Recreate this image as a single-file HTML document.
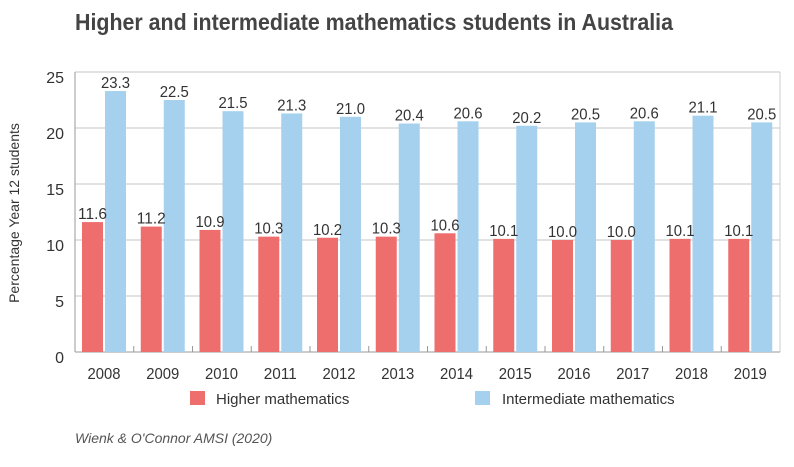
<!DOCTYPE html>
<html><head><style>
body{margin:0;background:#fff;}
svg text{font-family:"Liberation Sans Narrow","Liberation Sans",sans-serif;fill:#333;}
</style></head><body>
<svg width="794" height="462" viewBox="0 0 794 462" xmlns="http://www.w3.org/2000/svg">
<text x="75" y="30" font-size="23" font-weight="bold" fill="#444" style="fill:#444" textLength="598" lengthAdjust="spacingAndGlyphs">Higher and intermediate mathematics students in Australia</text>
<g stroke="#d0d0d0" stroke-width="1.2">
<line x1="75" y1="72" x2="780" y2="72"/>
<line x1="75" y1="128" x2="780" y2="128"/>
<line x1="75" y1="184" x2="780" y2="184"/>
<line x1="75" y1="240" x2="780" y2="240"/>
<line x1="75" y1="296" x2="780" y2="296"/>
</g>
<line x1="75" y1="72" x2="75" y2="352" stroke="#999"/>
<line x1="780" y1="72" x2="780" y2="352" stroke="#ccc"/>
<line x1="75" y1="352" x2="780" y2="352" stroke="#999"/>
<g font-size="16" text-anchor="end">
<text x="64" y="83">25</text><text x="64" y="139">20</text><text x="64" y="195">15</text>
<text x="64" y="251">10</text><text x="64" y="307">5</text><text x="64" y="363">0</text>
</g>
<text transform="translate(19,213) rotate(-90)" font-size="14" text-anchor="middle">Percentage Year 12 students</text>
<g id="bars"></g>
<rect x="190" y="391" width="15" height="14" fill="#ee6e6e"/>
<text x="216" y="404" font-size="15">Higher mathematics</text>
<rect x="475" y="391" width="15" height="14" fill="#a5d1ee"/>
<text x="502" y="404" font-size="15">Intermediate mathematics</text>
<text x="75" y="443" font-size="14" font-style="italic" fill="#555" style="fill:#555">Wienk &amp; O'Connor AMSI (2020)</text>
</svg>
<script>
var h=[11.6,11.2,10.9,10.3,10.2,10.3,10.6,10.1,10.0,10.0,10.1,10.1];
var m=[23.3,22.5,21.5,21.3,21.0,20.4,20.6,20.2,20.5,20.6,21.1,20.5];
var g=document.getElementById('bars'),s='';
for(var i=0;i<12;i++){
 var x0=75+i*58.75;
 var yh=352-h[i]*11.2, ym=352-m[i]*11.2;
 s+='<rect x="'+(x0+7)+'" y="'+yh+'" width="21" height="'+(352-yh)+'" fill="#ee6e6e"/>';
 s+='<rect x="'+(x0+30)+'" y="'+ym+'" width="21" height="'+(352-ym)+'" fill="#a5d1ee"/>';
 s+='<text x="'+(x0+17.5)+'" y="'+(yh-3)+'" font-size="16" text-anchor="middle" textLength="29" lengthAdjust="spacingAndGlyphs">'+h[i].toFixed(1)+'</text>';
 s+='<text x="'+(x0+40.5)+'" y="'+(ym-3)+'" font-size="16" text-anchor="middle" textLength="29" lengthAdjust="spacingAndGlyphs">'+m[i].toFixed(1)+'</text>';
 s+='<text x="'+(x0+29)+'" y="379" font-size="16" text-anchor="middle" textLength="33" lengthAdjust="spacingAndGlyphs">'+(2008+i)+'</text>';
 if(i>0) s+='<line x1="'+x0+'" y1="346" x2="'+x0+'" y2="352" stroke="#999"/>';
}
g.innerHTML=s;
</script>
</body></html>
